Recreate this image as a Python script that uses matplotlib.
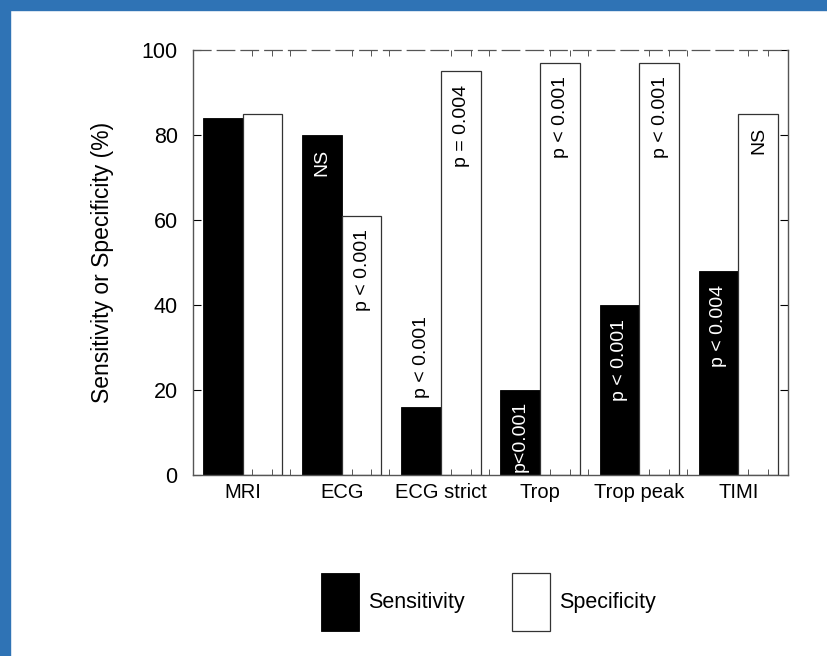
import numpy as np
import matplotlib
matplotlib.use('Agg')
import matplotlib.pyplot as plt
from matplotlib.patches import Rectangle

plt.rcParams['font.family'] = ['Liberation Sans', 'DejaVu Sans']

tests = ['MRI', 'ECG', 'ECG strict', 'Trop', 'Trop peak', 'TIMI']
sensitivity = [84, 80, 16, 20, 40, 48]
specificity = [85, 61, 95, 97, 97, 85]
sens_p = ['', 'NS', 'p < 0.001', 'p<0.001', 'p < 0.001', 'p < 0.004']
spec_p = ['', 'p < 0.001', 'p = 0.004', 'p < 0.001', 'p < 0.001', 'NS']
# where the label sits: in = inside under bar top, above = over bar, base = from bar bottom
sens_where = ['in', 'in', 'above', 'base', 'in', 'in']
spec_where = ['in', 'in', 'in', 'in', 'in', 'in']

fig = plt.figure(figsize=(8.28, 6.56), dpi=100)
# blue frame on left and top
fig.patches.append(Rectangle((0, 0), 10/828, 1, transform=fig.transFigure,
                             color='#2f73b5', zorder=0))
fig.patches.append(Rectangle((0, 1-10/656), 1, 10/656, transform=fig.transFigure,
                             color='#2f73b5', zorder=0))

ax = fig.add_axes([193/828, 1-475/656, 595/828, 425/656])
x = np.arange(len(tests))
w = 0.4
ax.bar(x + 0.1, sensitivity, w, align='edge', color='black', edgecolor='black',
       linewidth=0.6, label='Sensitivity')
ax.bar(x + 0.5, specificity, w, align='edge', color='white', edgecolor='#333333',
       linewidth=0.9, label='Specificity')

def put(xc, val, txt, where, color):
    if not txt:
        return
    if where == 'above':
        ax.text(xc, val + 2, txt, rotation=90, ha='center', va='bottom',
                fontsize=14, color=color)
    elif where == 'base':
        ax.text(xc, 0.8, txt, rotation=90, ha='center', va='bottom',
                fontsize=14, color=color)
    else:
        ax.text(xc, val - 3.2, txt, rotation=90, ha='center', va='top',
                fontsize=14, color=color)

for i in range(len(tests)):
    put(x[i] + 0.3, sensitivity[i], sens_p[i], sens_where[i],
        'black' if sens_where[i] == 'above' else 'white')
    put(x[i] + 0.71, specificity[i], spec_p[i], spec_where[i], 'black')

ax.set_xlim(0, len(tests))
ax.set_ylim(0, 100)
ax.set_yticks(np.arange(0, 101, 20))
ax.set_xticks(x + 0.5)
ax.set_xticklabels(tests, fontsize=14.5)
ax.set_xticks(np.concatenate([x + 0.6, x + 0.8, x[1:] - 0.02]), minor=True)
ax.tick_params(axis='x', which='major', length=0, pad=6)
ax.tick_params(axis='x', which='minor', direction='in', length=4, width=0.7,
               top=True, color='#555555')
ax.tick_params(axis='y', which='major', direction='in', length=6, width=0.8,
               right=True, labelsize=15.5, pad=11)
ax.set_ylabel('Sensitivity or Specificity (%)', fontsize=16.5, labelpad=20)

for s in ['left', 'right', 'bottom']:
    ax.spines[s].set_color('#555555')
    ax.spines[s].set_linewidth(1.0)
ax.spines['top'].set_color('#555555')
ax.spines['top'].set_linestyle((0, (14, 5)))
ax.spines['top'].set_linewidth(0.9)

fig.legend(loc='center', bbox_to_anchor=(0.59, 0.082), ncol=2, frameon=False,
           fontsize=15.5, handlelength=1.77, handleheight=3.75,
           handletextpad=0.42, columnspacing=2.2)

fig.savefig('out.png', dpi=100)
